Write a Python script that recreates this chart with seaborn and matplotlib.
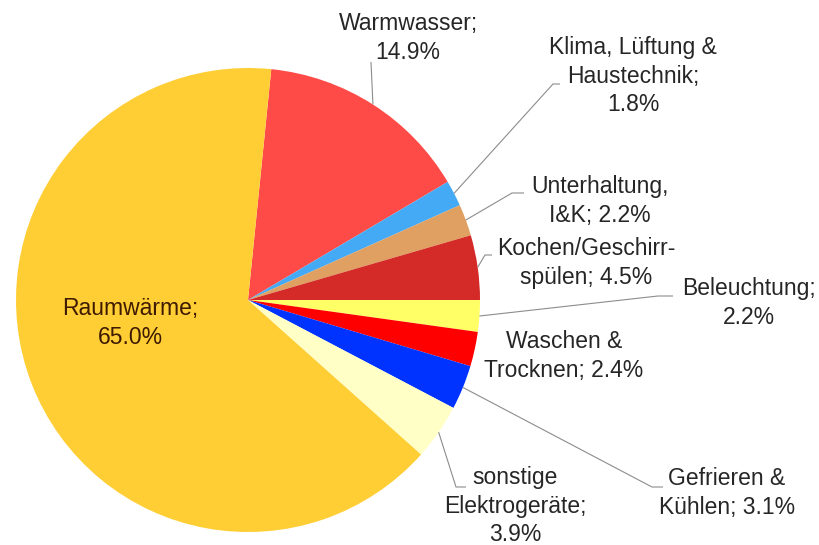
import numpy as np
import matplotlib.pyplot as plt
import seaborn as sns

# Energieverbrauch privater Haushalte nach Anwendungsbereich
categories = ['Warmwasser', 'Klima, Lüftung &\nHaustechnik', 'Unterhaltung,\nI&K',
              'Kochen/Geschirr-\nspülen', 'Beleuchtung', 'Waschen &\nTrocknen',
              'Gefrieren &\nKühlen', 'sonstige\nElektrogeräte', 'Raumwärme']
shares = [14.9, 1.8, 2.2, 4.5, 2.2, 2.4, 3.1, 3.9, 65.0]
label_texts = ['Warmwasser;\n14.9%', 'Klima, Lüftung &\nHaustechnik;\n1.8%', 'Unterhaltung,\nI&K; 2.2%',
               'Kochen/Geschirr-\nspülen; 4.5%', 'Beleuchtung;\n2.2%', 'Waschen &\nTrocknen; 2.4%',
               'Gefrieren &\nKühlen; 3.1%', 'sonstige\nElektrogeräte;\n3.9%', 'Raumwärme;\n65.0%']
colors = ['#FF4B48', '#45AAF5', '#DFA061', '#D42A28', '#FFFF66',
          '#FF0000', '#0033FF', '#FFFFC6', '#FFCE35']

# label centres and leader elbows in pixel coords (from top-left)
label_pos = [(408, 38), (633, 76), (600, 201), (586, 263), (749, 303),
             (564, 356), (727, 493), (515, 506), (130, 323)]
elbows = [[(371, 62)], [(553, 84), (560, 84)], [(512, 193), (524, 193)],
          [(485, 255), (492, 255)], [(658, 296), (673, 296)], None,
          [(652, 487), (663, 487)], [(456, 487), (466, 487)], None]

sns.set_theme(style='white')
plt.rcParams['font.family'] = ['Liberation Sans', 'DejaVu Sans']

W, H = 819, 545
fig = plt.figure(figsize=(W / 100, H / 100), dpi=100)
ax = fig.add_axes([0, 0, 1, 1])

cx, cy, r = 248, H - 300, 232
start = 84.24
wedges, _ = ax.pie(shares, colors=colors, startangle=start, counterclock=False,
                   center=(cx, cy), radius=r, frame=True,
                   wedgeprops=dict(linewidth=0))
ax.set_xlim(0, W)
ax.set_ylim(0, H)
ax.set_aspect('equal')
ax.axis('off')

for i, w in enumerate(wedges):
    mid = np.deg2rad((w.theta1 + w.theta2) / 2)
    x0, y0 = cx + r * np.cos(mid), cy + r * np.sin(mid)
    if elbows[i]:
        xs = [x0] + [p[0] for p in elbows[i]]
        ys = [y0] + [H - p[1] for p in elbows[i]]
        ax.plot(xs, ys, color='#8c8c8c', lw=0.8, solid_capstyle='butt')
    tx, ty = label_pos[i]
    col = '#3d1a00' if i == 8 else '#262626'
    ax.text(tx, H - ty, label_texts[i], ha='center', va='center', fontsize=16.5,
            color=col, linespacing=1.28)

fig.savefig('out.png', dpi=100, facecolor='white')
